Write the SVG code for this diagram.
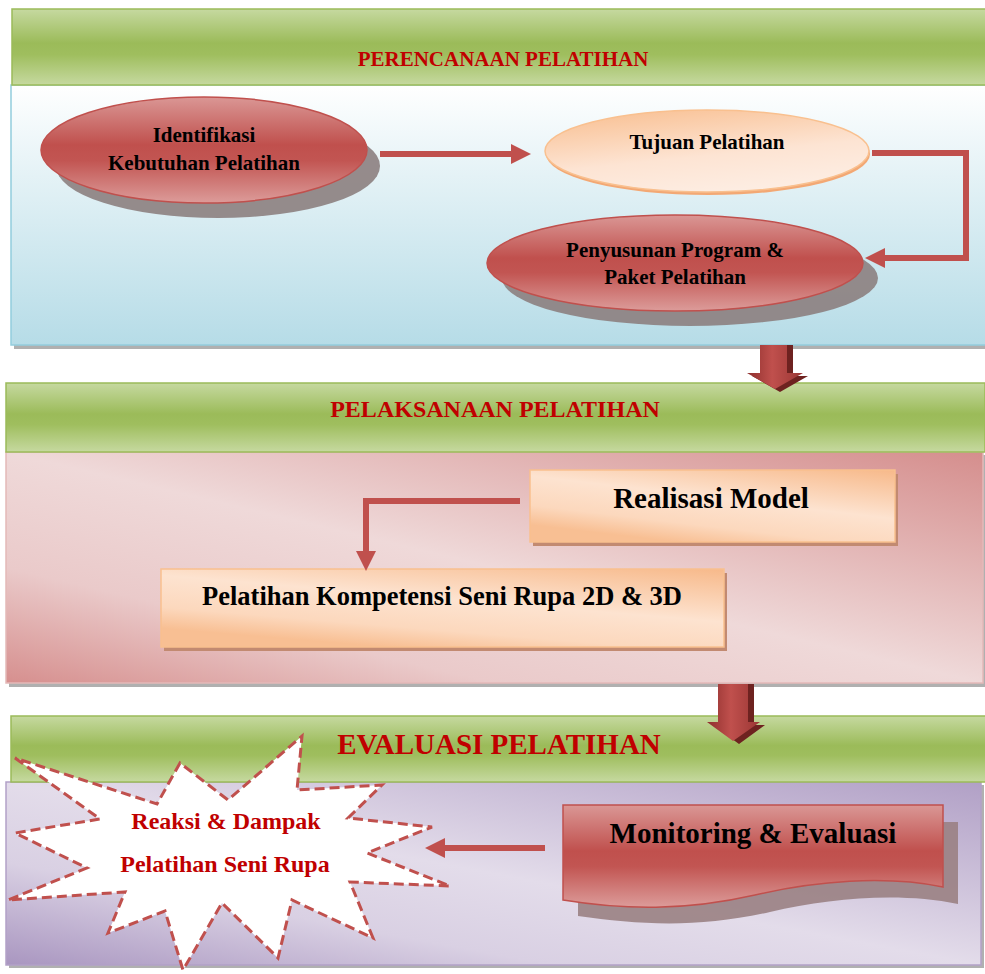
<svg xmlns="http://www.w3.org/2000/svg" width="985" height="974" viewBox="0 0 985 974">
<defs>
<linearGradient id="gGreen" x1="0" y1="0" x2="0" y2="1">
<stop offset="0" stop-color="#c6d9a0"/><stop offset="0.45" stop-color="#9bbb59"/><stop offset="0.6" stop-color="#9fbe5e"/><stop offset="1" stop-color="#c6d9a0"/>
</linearGradient>
<linearGradient id="gBlue" x1="0" y1="0" x2="0" y2="1">
<stop offset="0" stop-color="#ffffff"/><stop offset="0.35" stop-color="#e4f2f6"/><stop offset="1" stop-color="#b6dce7"/>
</linearGradient>
<linearGradient id="gPink" x1="1" y1="0" x2="0" y2="1">
<stop offset="0" stop-color="#d58e8d"/><stop offset="0.5" stop-color="#efd9d9"/><stop offset="0.75" stop-color="#eacaca"/><stop offset="1" stop-color="#d68f8e"/>
</linearGradient>
<linearGradient id="gPurple" x1="1" y1="0" x2="0" y2="1">
<stop offset="0" stop-color="#b1a0c6"/><stop offset="0.5" stop-color="#e3dcea"/><stop offset="0.72" stop-color="#d9d0e3"/><stop offset="1" stop-color="#a996c0"/>
</linearGradient>
<linearGradient id="gRed" x1="0" y1="0" x2="0" y2="1">
<stop offset="0" stop-color="#da9795"/><stop offset="0.45" stop-color="#c0504d"/><stop offset="0.6" stop-color="#c25552"/><stop offset="1" stop-color="#dc9c9a"/>
</linearGradient>
<linearGradient id="gPeachE" x1="0.3" y1="0" x2="0.7" y2="1">
<stop offset="0" stop-color="#f9c398"/><stop offset="0.55" stop-color="#fde4d3"/><stop offset="1" stop-color="#fdeee4"/>
</linearGradient>
<linearGradient id="gPeachR" x1="1" y1="0" x2="0.4" y2="1">
<stop offset="0" stop-color="#f7b98a"/><stop offset="0.5" stop-color="#fde3d0"/><stop offset="0.8" stop-color="#fcd8bd"/><stop offset="1" stop-color="#f8bf93"/>
</linearGradient>
<linearGradient id="gBlock" x1="0" y1="0" x2="1" y2="0">
<stop offset="0" stop-color="#8e2f2d"/><stop offset="0.45" stop-color="#c0504d"/><stop offset="1" stop-color="#9a3634"/>
</linearGradient>
<marker id="ah" viewBox="0 0 20 20" markerWidth="20" markerHeight="20" refX="0" refY="10" markerUnits="userSpaceOnUse" orient="auto">
<path d="M0,0 L20,10 L0,20 Z" fill="#c0504d"/>
</marker>
<style>
.hdr{fill:url(#gGreen);stroke:#9bbb59;stroke-width:1.5}
.boxshadow{fill:#8f8f8f;opacity:0.7}
.title{font-family:"Liberation Serif","Times New Roman",serif;font-weight:bold;fill:#c00000;text-anchor:middle}
.lbl{font-family:"Liberation Serif","Times New Roman",serif;font-weight:bold;fill:#000;text-anchor:middle}
.redE{fill:url(#gRed);stroke:#c0504d;stroke-width:1.5}
.eshadow{fill:#8c7f80;opacity:0.9}
.conn{fill:none;stroke:#c0504d;stroke-width:6;marker-end:url(#ah)}
.peachR{fill:url(#gPeachR);stroke:#f9c08f;stroke-width:1.5}
.rshadow{fill:#c28a71}
</style>
</defs>
<rect width="985" height="974" fill="#ffffff"/>

<!-- Section 1 -->
<g id="section-perencanaan">
<rect class="boxshadow" x="14" y="88" width="975" height="261"/>
<rect x="11" y="85" width="978" height="260" fill="url(#gBlue)" stroke="#93cddd" stroke-width="1.5"/>
<rect class="hdr" x="12" y="9" width="977" height="76"/>
<text class="title" x="503" y="66" font-size="21">PERENCANAAN PELATIHAN</text>
</g>

<!-- Section 2 -->
<g id="section-pelaksanaan">
<rect class="boxshadow" x="9" y="455" width="976" height="232"/>
<rect x="6" y="452" width="977" height="231" fill="url(#gPink)" stroke="#e4b9b8" stroke-width="1.5"/>
<rect class="hdr" x="6" y="383" width="979" height="69"/>
<text class="title" x="495" y="417" font-size="24">PELAKSANAAN PELATIHAN</text>
</g>

<!-- Section 3 -->
<g id="section-evaluasi">
<rect class="boxshadow" x="9" y="785" width="975" height="183"/>
<rect x="6" y="782" width="975" height="183" fill="url(#gPurple)" stroke="#b2a1c7" stroke-width="1.5"/>
<rect class="hdr" x="11" y="716" width="978" height="66"/>
<text class="title" x="499" y="754" font-size="29">EVALUASI PELATIHAN</text>
</g>

<!-- Nodes -->
<g id="node-identifikasi">
<ellipse class="eshadow" cx="218" cy="166" rx="162" ry="52"/>
<ellipse class="redE" cx="204" cy="150" rx="163" ry="53"/>
<text class="lbl" x="204" y="142" font-size="21">Identifikasi</text>
<text class="lbl" x="204" y="170" font-size="21">Kebutuhan Pelatihan</text>
</g>

<g id="node-tujuan">
<ellipse cx="708" cy="154" rx="162" ry="41" fill="#f3a874"/>
<ellipse cx="707" cy="151" rx="162" ry="41" fill="url(#gPeachE)" stroke="#f9c08f" stroke-width="1.5"/>
<text class="lbl" x="707" y="149" font-size="21">Tujuan Pelatihan</text>
</g>

<g id="node-penyusunan">
<ellipse class="eshadow" cx="690" cy="278" rx="188" ry="48"/>
<ellipse class="redE" cx="675" cy="263" rx="188" ry="48"/>
<text class="lbl" x="675" y="257" font-size="21">Penyusunan Program &amp;</text>
<text class="lbl" x="675" y="284" font-size="21">Paket Pelatihan</text>
</g>

<g id="node-realisasi">
<rect class="rshadow" x="533" y="474" width="365" height="72"/>
<rect class="peachR" x="530" y="470" width="365" height="72"/>
<text class="lbl" x="711" y="508" font-size="29">Realisasi Model</text>
</g>

<g id="node-pelatihan-kompetensi">
<rect class="rshadow" x="164" y="573" width="563" height="78"/>
<rect class="peachR" x="161" y="569" width="563" height="78"/>
<text class="lbl" x="442" y="605" font-size="26.5">Pelatihan Kompetensi Seni Rupa 2D &amp; 3D</text>
</g>

<g id="node-monitoring">
<path d="M578,822 H958 V904 C 900,892 830,898 770,912 C 700,928 640,925 578,916 Z" fill="#9a8183" opacity="0.9"/>
<path d="M563,805 H943 V887 C 885,875 815,881 755,895 C 685,911 625,910 563,900 Z" fill="url(#gRed)" stroke="#c0504d" stroke-width="1.5"/>
<text class="lbl" x="753" y="843" font-size="29">Monitoring &amp; Evaluasi</text>
</g>

<g id="node-reaksi">
<polygon points="15,758 100,819 15,833 87,868 8,900 125,892 108,933 165,911 183,970 222,903 278,958 292,900 373,938 350,882 450,886 367,853 432,827 348,818 382,785 297,790 302,736 228,800 180,763 157,804" fill="#ffffff" stroke="#c0504d" stroke-width="3" stroke-dasharray="10,5" stroke-linejoin="miter"/>
<text class="title" x="226" y="829" font-size="24">Reaksi &amp; Dampak</text>
<text class="title" x="225" y="872" font-size="24">Pelatihan Seni Rupa</text>
</g>

<!-- Connectors -->
<g id="connectors">
<line class="conn" x1="380" y1="154" x2="511" y2="154"/>
<polyline class="conn" points="872,153 966,153 966,258 885,258"/>
<polyline class="conn" points="520,501 366,501 366,551"/>
<line class="conn" x1="545" y1="848" x2="445" y2="848"/>
<g id="block-arrow-1">
<path d="M766,345 H793 V376 H808 L780,392 L752,376 H766 Z" fill="#6e2220"/>
<path d="M760,345 H787 V373 H803 L775,389 L747,373 H760 Z" fill="url(#gBlock)"/>
</g>
<g id="block-arrow-2">
<path d="M724,684 H754 V725 H765 L739,744 L713,725 H724 Z" fill="#6e2220"/>
<path d="M718,684 H748 V722 H760 L733,741 L707,722 H718 Z" fill="url(#gBlock)"/>
</g>
</g>
</svg>
